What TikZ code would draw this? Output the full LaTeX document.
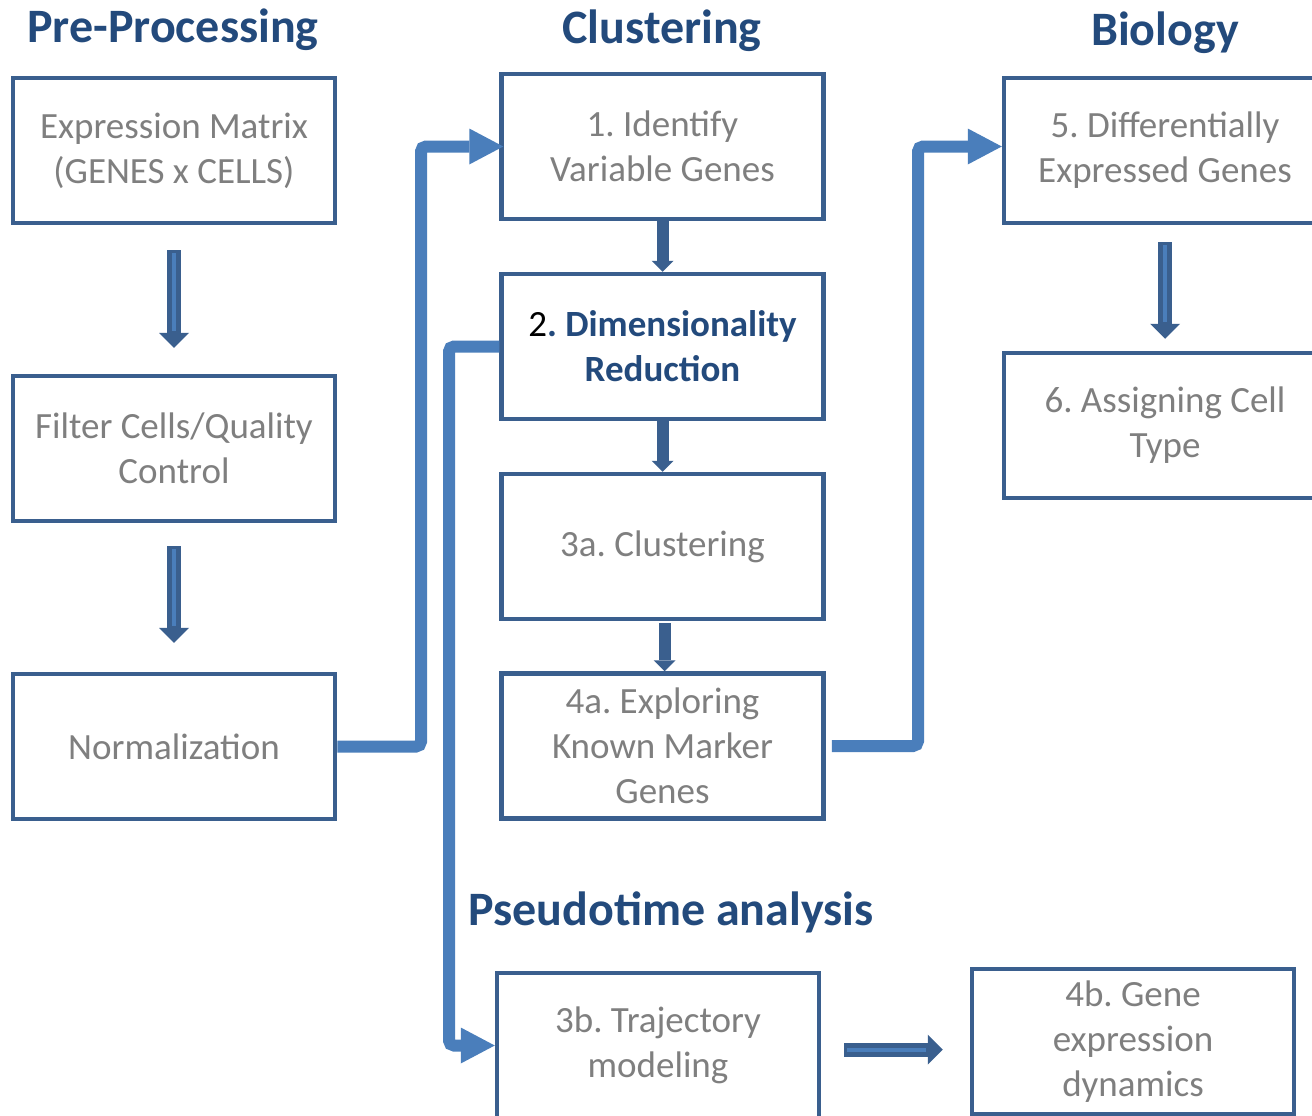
\documentclass[tikz,border=0pt]{standalone}
\usepackage{fontspec}
\setmainfont{Carlito}
\frenchspacing
\usetikzlibrary{arrows.meta,calc}
\definecolor{boxc}{HTML}{3A5F8E}
\definecolor{connc}{HTML}{4A7EBB}
\definecolor{txtc}{HTML}{7F7F7F}
\definecolor{ttlc}{HTML}{234A7C}
\begin{document}
\begin{tikzpicture}[x=1pt,y=-1pt,
  box/.style={draw=boxc, line width=4.5pt, minimum width=322pt, minimum height=145pt,
    inner sep=0pt, align=center, text=txtc, font=\fontsize{37}{45}\selectfont},
  ttlstyle/.style={text=ttlc, inner sep=0pt, font=\fontsize{48}{54}\selectfont\bfseries},
  elbow/.style={draw=connc, line width=12pt, rounded corners=5pt,
    -{Triangle[length=34pt,width=36pt,line width=0pt]}},
  darrow/.style={draw=boxc, line width=14pt,
    -{Triangle[length=15pt,width=30pt,line width=0pt]},
    postaction={draw=connc, line width=4pt, -, shorten >=17pt, shorten <=3pt}},
  sarrow/.style={draw=boxc, line width=12pt,
    -{Triangle[length=11pt,width=22pt,line width=0pt]}}
]
\useasboundingbox (0,0) rectangle (1312,1116);
\fill[white] (0,0) rectangle (1312,1116);

% titles
\node[ttlstyle] (t1) at (173,30) {Pre-Processing};
\node[ttlstyle] (t2) at (662,31) {Clustering};
\node[ttlstyle] (t3) at (1165,33) {Biology};
\node[ttlstyle] (t4) at (671,912) {Pseudotime analysis};

% boxes
\node[box] (expr) at (174,150.5) {Expression Matrix\\(GENES x CELLS)};
\node[box] (filt) at (174,448.5) {Filter Cells/Quality\\Control};
\node[box] (norm) at (174,746.5) {Normalization};
\node[box] (iden) at (662.5,146.5) {1. Identify\\Variable Genes};
\node[box, text=ttlc, font=\fontsize{37}{45}\selectfont\bfseries] (dim) at (662.5,346.5) {{\color{black}\mdseries 2}. Dimensionality\\Reduction};
\node[box] (clu) at (662.5,546.5) {3a. Clustering};
\node[box] (known) at (662.5,746) {4a. Exploring\\Known Marker\\Genes};
\node[box] (deg) at (1165,150.5) {5. Differentially\\Expressed Genes};
\node[box] (cell) at (1165,425.5) {6. Assigning Cell\\Type};
\node[box] (traj) at (658,1045.5) {3b. Trajectory\\modeling};
\node[box] (gene) at (1133,1041.5) {4b. Gene\\expression\\dynamics};

% elbow connectors
\coordinate (k1) at (421,0);
\coordinate (k2) at (449,0);
\coordinate (k3) at (918,0);
\draw[elbow] (norm.east) -- (norm.east -| k1) -- (iden.west -| k1) -- ($(iden.west)+(4,0)$);
\draw[elbow] (dim.west) -- (dim.west -| k2) -- (traj.west -| k2) -- (traj.west);
\draw[elbow] ($(known.east)+(6,0)$) -- (known.east -| k3) -- ($(deg.west -| k3)+(0,-4)$) -- ($(deg.west)+(0,-4)$);

% block arrows
\draw[darrow] ($(expr.south)+(0,25)$) -- ($(filt.north)+(0,-26)$);
\draw[darrow] ($(filt.south)+(0,23)$) -- ($(norm.north)+(0,-29)$);
\draw[darrow] ($(deg.south)+(0,17)$) -- ($(cell.north)+(0,-12)$);
\draw[darrow] ($(traj.east)+(23,4)$) -- ($(gene.west)+(-27,8)$);
\draw[sarrow] (iden.south) -- (dim.north);
\draw[sarrow] (dim.south) -- (clu.north);
\draw[sarrow] ($(clu.south)+(2,2)$) -- ($(known.north)+(2,0)$);
\end{tikzpicture}
\end{document}
